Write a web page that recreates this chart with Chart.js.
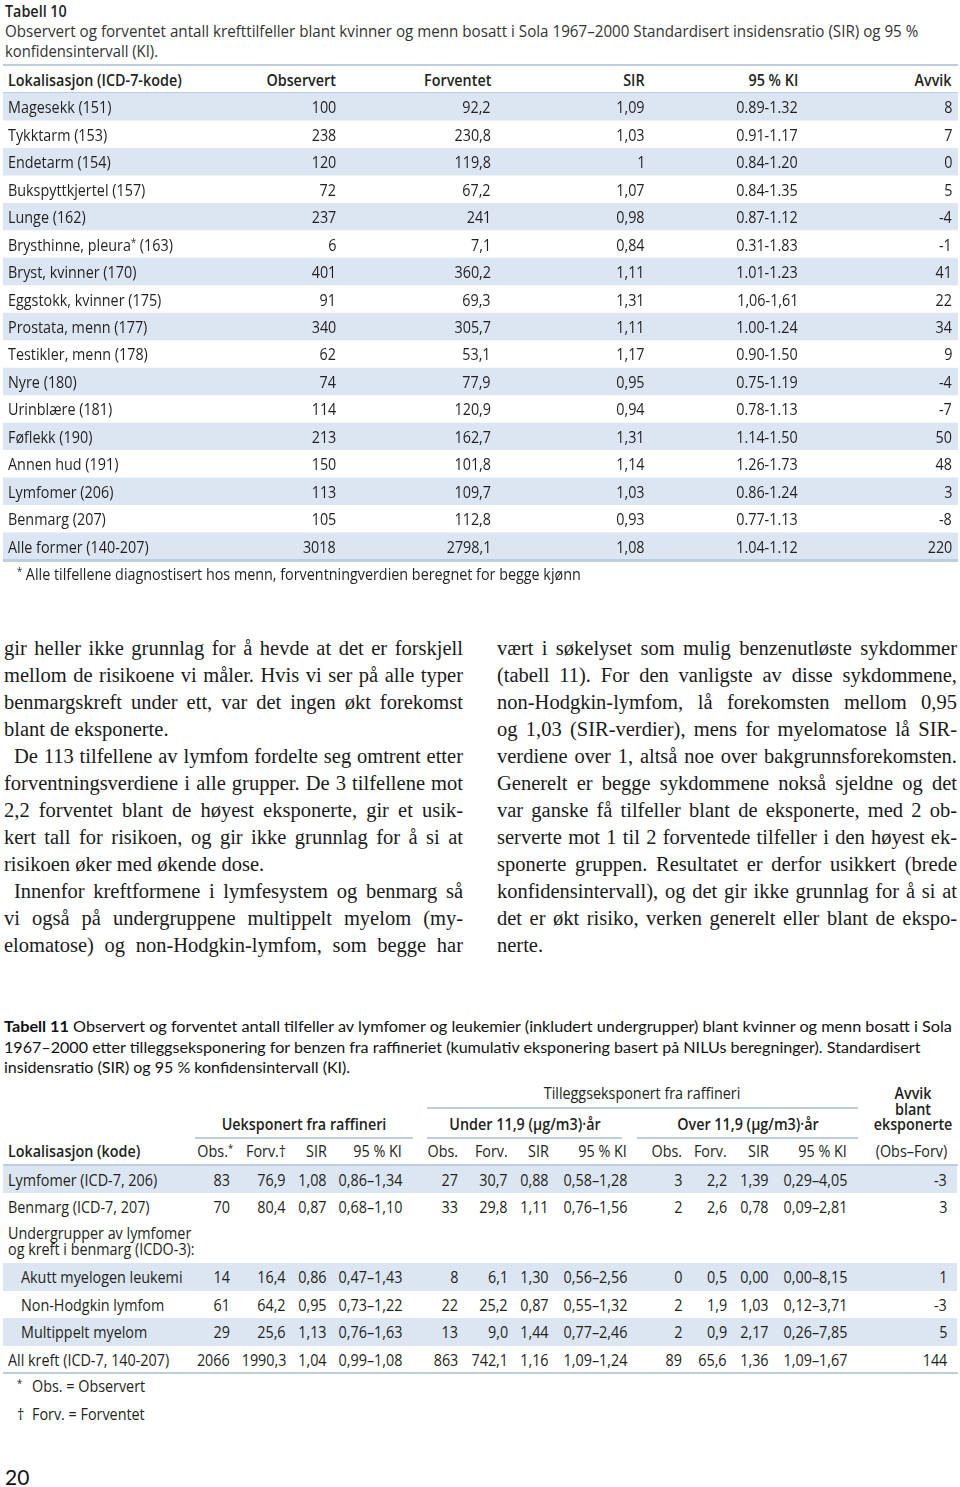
<!DOCTYPE html>
<html lang="no">
<head>
<meta charset="utf-8">
<title>Tabell 10 og 11</title>
<script src="https://cdn.jsdelivr.net/npm/chart.js@4.4.1/dist/chart.umd.min.js"></script>
<style>
  html, body { margin:0; padding:0; background:#fff; }
  body { position:relative; width:960px; height:1487px; overflow:hidden; color:#231f20; }
  .a { position:absolute; white-space:nowrap; }
  .nar { font-family:'Open Sans','Noto Sans','DejaVu Sans',sans-serif; font-size:16.5px; }
  .b { font-weight:600; }
  .cap { color:#333; font-size:17px; }
  .cal { font-family:Lato,'Open Sans',sans-serif; font-size:15.5px; color:#111; }
  .ser { font-family:'Liberation Serif','DejaVu Serif',serif; font-size:20.5px; color:#1a1a1a; }
  .rule { position:absolute; background:#bccde0; }
  .band { position:absolute; background:#dce6f2; }
  sup { font-size:65%; vertical-align:0; position:relative; top:-.45em; }
</style>
</head>
<body>
<canvas id="stripes10" width="955" height="467" style="position:absolute;left:3px;top:93px"></canvas>
<script>
// ---- Tabell 10 ----
const t10Head   = ['Lokalisasjon (ICD-7-kode)', 'Observert', 'Forventet', 'SIR', '95 % KI', 'Avvik']
const t10Sites  = ['Magesekk (151)', 'Tykktarm (153)', 'Endetarm (154)', 'Bukspyttkjertel (157)', 'Lunge (162)',
  'Brysthinne, pleura* (163)', 'Bryst, kvinner (170)', 'Eggstokk, kvinner (175)', 'Prostata, menn (177)',
  'Testikler, menn (178)', 'Nyre (180)', 'Urinblære (181)', 'Føflekk (190)', 'Annen hud (191)',
  'Lymfomer (206)', 'Benmarg (207)', 'Alle former (140-207)']
const t10Obs    = ['100', '238', '120', '72', '237', '6', '401', '91', '340', '62', '74', '114', '213', '150', '113', '105', '3018']
const t10Forv   = ['92,2', '230,8', '119,8', '67,2', '241', '7,1', '360,2', '69,3', '305,7', '53,1', '77,9', '120,9', '162,7', '101,8', '109,7', '112,8', '2798,1']
const t10Sir    = ['1,09', '1,03', '1', '1,07', '0,98', '0,84', '1,11', '1,31', '1,11', '1,17', '0,95', '0,94', '1,31', '1,14', '1,03', '0,93', '1,08']
const t10Ki     = ['0.89-1.32', '0.91-1.17', '0.84-1.20', '0.84-1.35', '0.87-1.12', '0.31-1.83', '1.01-1.23', '1,06-1,61', '1.00-1.24',
  '0.90-1.50', '0.75-1.19', '0.78-1.13', '1.14-1.50', '1.26-1.73', '0.86-1.24', '0.77-1.13', '1.04-1.12']
const t10Avvik  = ['8', '7', '0', '5', '-4', '-1', '41', '22', '34', '9', '-4', '-7', '50', '48', '3', '-8', '220']
const t10Title  = 'Tabell 10'
const t10Cap    = ['Observert og forventet antall krefttilfeller blant kvinner og menn bosatt i Sola 1967–2000 Standardisert insidensratio (SIR) og 95 %',
  'konfidensintervall (KI).']
const t10Note   = '* Alle tilfellene diagnostisert hos menn, forventningverdien beregnet for begge kjønn'

// ---- brødtekst ----
const colLeft  = ['gir heller ikke grunnlag for å hevde at det er forskjell', 'mellom de risikoene vi måler. Hvis vi ser på alle typer',
  'benmargskreft under ett, var det ingen økt forekomst', 'blant de eksponerte.',
  'De 113 tilfellene av lymfom fordelte seg omtrent etter', 'forventningsverdiene i alle grupper. De 3 tilfellene mot',
  '2,2 forventet blant de høyest eksponerte, gir et usik-', 'kert tall for risikoen, og gir ikke grunnlag for å si at',
  'risikoen øker med økende dose.', 'Innenfor kreftformene i lymfesystem og benmarg så',
  'vi også på undergruppene multippelt myelom (my-', 'elomatose) og non-Hodgkin-lymfom, som begge har']
const colRight = ['vært i søkelyset som mulig benzenutløste sykdommer', '(tabell 11). For den vanligste av disse sykdommene,',
  'non-Hodgkin-lymfom, lå forekomsten mellom 0,95', 'og 1,03 (SIR-verdier), mens for myelomatose lå SIR-',
  'verdiene over 1, altså noe over bakgrunnsforekomsten.', 'Generelt er begge sykdommene nokså sjeldne og det',
  'var ganske få tilfeller blant de eksponerte, med 2 ob-', 'serverte mot 1 til 2 forventede tilfeller i den høyest ek-',
  'sponerte gruppen. Resultatet er derfor usikkert (brede', 'konfidensintervall), og det gir ikke grunnlag for å si at',
  'det er økt risiko, verken generelt eller blant de ekspo-', 'nerte.']

// ---- Tabell 11 ----
const t11Cap    = ['<b>Tabell 11</b> Observert og forventet antall tilfeller av lymfomer og leukemier (inkludert undergrupper) blant kvinner og menn bosatt i Sola',
  '1967–2000 etter tilleggseksponering for benzen fra raffineriet (kumulativ eksponering basert på NILUs beregninger). Standardisert',
  'insidensratio (SIR) og 95 % konfidensintervall (KI).']
const t11Groups = ['Ueksponert fra raffineri', 'Under 11,9 (µg/m3)·år', 'Over 11,9 (µg/m3)·år']
const t11Top    = 'Tilleggseksponert fra raffineri'
const t11AvvikHead = ['Avvik', 'blant', 'eksponerte']
const t11Cols   = ['Obs.*', 'Forv.†', 'SIR', '95 % KI', 'Obs.', 'Forv.', 'SIR', '95 % KI', 'Obs.', 'Forv.', 'SIR', '95 % KI', '(Obs–Forv)']
const t11Sites  = ['Lymfomer (ICD-7, 206)', 'Benmarg (ICD-7, 207)', 'Undergrupper  av lymfomer|og kreft i benmarg (ICDO-3):',
  'Akutt myelogen leukemi', 'Non-Hodgkin lymfom', 'Multippelt myelom', 'All kreft (ICD-7, 140-207)']
const t11Unexp  = [['83', '76,9', '1,08', '0,86–1,34'], ['70', '80,4', '0,87', '0,68–1,10'], null,
  ['14', '16,4', '0,86', '0,47–1,43'], ['61', '64,2', '0,95', '0,73–1,22'], ['29', '25,6', '1,13', '0,76–1,63'], ['2066', '1990,3', '1,04', '0,99–1,08']]
const t11Under  = [['27', '30,7', '0,88', '0,58–1,28'], ['33', '29,8', '1,11', '0,76–1,56'], null,
  ['8', '6,1', '1,30', '0,56–2,56'], ['22', '25,2', '0,87', '0,55–1,32'], ['13', '9,0', '1,44', '0,77–2,46'], ['863', '742,1', '1,16', '1,09–1,24']]
const t11Over   = [['3', '2,2', '1,39', '0,29–4,05'], ['2', '2,6', '0,78', '0,09–2,81'], null,
  ['0', '0,5', '0,00', '0,00–8,15'], ['2', '1,9', '1,03', '0,12–3,71'], ['2', '0,9', '2,17', '0,26–7,85'], ['89', '65,6', '1,36', '1,09–1,67']]
const t11Avvik  = ['-3', '3', '', '1', '-3', '5', '144']
const t11Notes  = [['*', 'Obs. = Observert'], ['†', 'Forv. = Forventet']]
const pageNo    = '20'

// ---- layout ----
const T10_RIGHT = [336, 491, 645, 798, 952]
const T10_ROW0 = 93, T10_ROWH = 467 / t10Sites.length
const T11_RIGHT = [230, 286, 327, 402, 458, 508, 549, 627, 682, 727, 769, 847, 947]
const T11_ROWS = [[1165.5, 27], [1192.5, 27.5], [1220, 43], [1263, 27.5], [1290.5, 27.5], [1318, 27.5], [1345.5, 27.5]]
const T11_BAND = [1, 0, 0, 1, 0, 1, 0]
const T11_INDENT = [0, 0, 0, 1, 1, 1, 0]

const esc = s => s.replace(/&/g, '&amp;').replace(/</g, '&lt;')
const html = s => esc(s).replace('*', '<sup>*</sup>')

// smal tabellskrift: Open Sans klemt sammen horisontalt
let NARROW = 1
function put(text, x, cy, o = {}) {
  const d = document.createElement('div')
  const cls = o.cls || 'nar'
  d.className = 'a ' + cls
  d.innerHTML = o.raw ? text : html(text)
  const h = o.h || 20
  d.style.top = (cy - h / 2) + 'px'
  d.style.height = h + 'px'
  d.style.lineHeight = h + 'px'
  const sx = cls.includes('nar') ? NARROW : 1
  if (o.align === 'right') {
    d.style.right = (960 - x) + 'px'
    d.style.transformOrigin = 'right center'
    d.style.transform = `scaleX(${sx})`
  } else if (o.align === 'center') {
    d.style.left = x + 'px'
    d.style.transformOrigin = 'center center'
    d.style.transform = `translateX(-50%) scaleX(${sx})`
  } else {
    d.style.left = x + 'px'
    d.style.transformOrigin = 'left center'
    d.style.transform = `scaleX(${sx})`
  }
  document.body.appendChild(d)
  return d
}
function rule(x1, x2, y, w = 2, cls = 'rule') {
  const d = document.createElement('div')
  d.className = cls
  Object.assign(d.style, { left: x1 + 'px', top: y + 'px', width: (x2 - x1) + 'px', height: w + 'px' })
  document.body.appendChild(d)
}
function fitScale(el, target) {
  el.style.transform = `scaleX(${target / el.offsetWidth})`
}
function fitWords(el, target) {
  const w = el.getBoundingClientRect().width
  const n = (el.textContent.match(/ /g) || []).length
  if (n) el.style.wordSpacing = ((target - w) / n) + 'px'
}

// kalibrer smalskriften mot bredden av "Magesekk (151)" i forelegget
{
  const probe = put(t10Sites[0], 0, -50)
  NARROW = 103.5 / probe.offsetWidth
  probe.remove()
}

// Tabell 10 – tittel og rammer
put(t10Title, 5, 11, { cls: 'nar b' })
fitScale(put(t10Cap[0], 5, 31, { cls: 'nar cap' }), 913)
put(t10Cap[1], 5, 51, { cls: 'nar cap' })
rule(3, 958, 63.5, 2.5)
rule(3, 958, 91.5, 1.5)
rule(3, 958, 559, 2.5)

put(t10Head[0], 8, 80, { cls: 'nar b' })
t10Head.slice(1).forEach((h, j) => put(h, T10_RIGHT[j], 80, { cls: 'nar b', align: 'right' }))

t10Sites.forEach((site, i) => {
  const cy = T10_ROW0 + T10_ROWH * (i + 0.5) + 0.5
  put(site, 8, cy)
  const vals = [t10Obs[i], t10Forv[i], t10Sir[i], t10Ki[i], t10Avvik[i]]
  vals.forEach((v, j) => put(v, T10_RIGHT[j], cy, { align: 'right' }))
})
put(t10Note, 17, 574)

// brødtekst – hver linje justeres til spaltebredden
const lastLines = [3, 8]
colLeft.forEach((line, i) => {
  const indent = (i === 4 || i === 9) ? 10 : 0
  const el = put(esc(line), 4 + indent, 648 + 27 * i, { cls: 'ser', h: 27, raw: true })
  if (!lastLines.includes(i)) fitWords(el, 459 - indent)
})
colRight.forEach((line, i) => {
  const el = put(esc(line), 497, 648 + 27 * i, { cls: 'ser', h: 27, raw: true })
  if (i < colRight.length - 1) fitWords(el, 460)
})

// Tabell 11
const capW = [948, 916, 346]
t11Cap.forEach((line, i) => {
  const el = put(line, 4, 1026 + 20.5 * i, { cls: 'cal', raw: true })
  fitScale(el, capW[i])
})

put(t11Top, 642, 1093, { align: 'center' })
rule(427, 858, 1107, 2)
t11AvvikHead.forEach((t, i) => put(t, 913, 1093 + 15.5 * i, { cls: 'nar b', align: 'center', h: 16 }))
const groupSpan = [[195, 413], [427, 622], [637, 858]]
t11Groups.forEach((g, k) => {
  const [a, b] = groupSpan[k]
  put(g, (a + b) / 2, 1124, { cls: 'nar b', align: 'center' })
  rule(a, b, 1136.5, 2)
})
put('Lokalisasjon (kode)', 8, 1151, { cls: 'nar b' })
t11Cols.forEach((c, j) => put(c, T11_RIGHT[j] + (c.endsWith('*') ? 3 : 0), 1151, { align: 'right' }))
rule(3, 958, 1164, 2)

T11_ROWS.forEach(([top, h], i) => {
  if (T11_BAND[i]) rule(3, 957, top, h, 'band')
})
t11Sites.forEach((site, i) => {
  const [top, h] = T11_ROWS[i]
  const x = T11_INDENT[i] ? 21 : 8
  const parts = site.split('|')
  if (parts.length > 1) {
    parts.forEach((p, k) => put(p, x, top + 13 + 16 * k, { h: 16 }))
    return
  }
  const cy = top + h / 2 + 0.5
  put(site, x, cy)
  const vals = t11Unexp[i] ? [...t11Unexp[i], ...t11Under[i], ...t11Over[i], t11Avvik[i]] : []
  vals.forEach((v, j) => put(v, T11_RIGHT[j], cy, { align: 'right' }))
})
rule(3, 958, 1371.5, 2.5)

t11Notes.forEach(([mark, txt], i) => {
  const cy = 1386 + 27.5 * i
  put(mark === '*' ? '<sup>*</sup>' : mark, 17, cy, { raw: true })
  put(txt, 32, cy)
})
put(pageNo, 5, 1477, { cls: 'cal', h: 24 }).style.fontSize = '21px'

// striper i tabell 10 tegnes av Chart.js
new Chart(document.getElementById('stripes10'), {
  type: 'bar',
  data: {
    labels: t10Sites,
    datasets: [{
      data: t10Sites.map((_, i) => i % 2 === 0 ? [0, 1] : null),
      backgroundColor: '#dce6f2',
      borderWidth: 0,
      borderSkipped: false,
      barPercentage: 1,
      categoryPercentage: 1,
      inflateAmount: 0
    }]
  },
  options: {
    indexAxis: 'y',
    responsive: false,
    animation: false,
    events: [],
    layout: { padding: 0 },
    plugins: { legend: { display: false }, tooltip: { enabled: false } },
    scales: {
      x: { display: false, min: 0, max: 1 },
      y: { display: false, offset: true }
    }
  }
})
</script>
</body>
</html>
